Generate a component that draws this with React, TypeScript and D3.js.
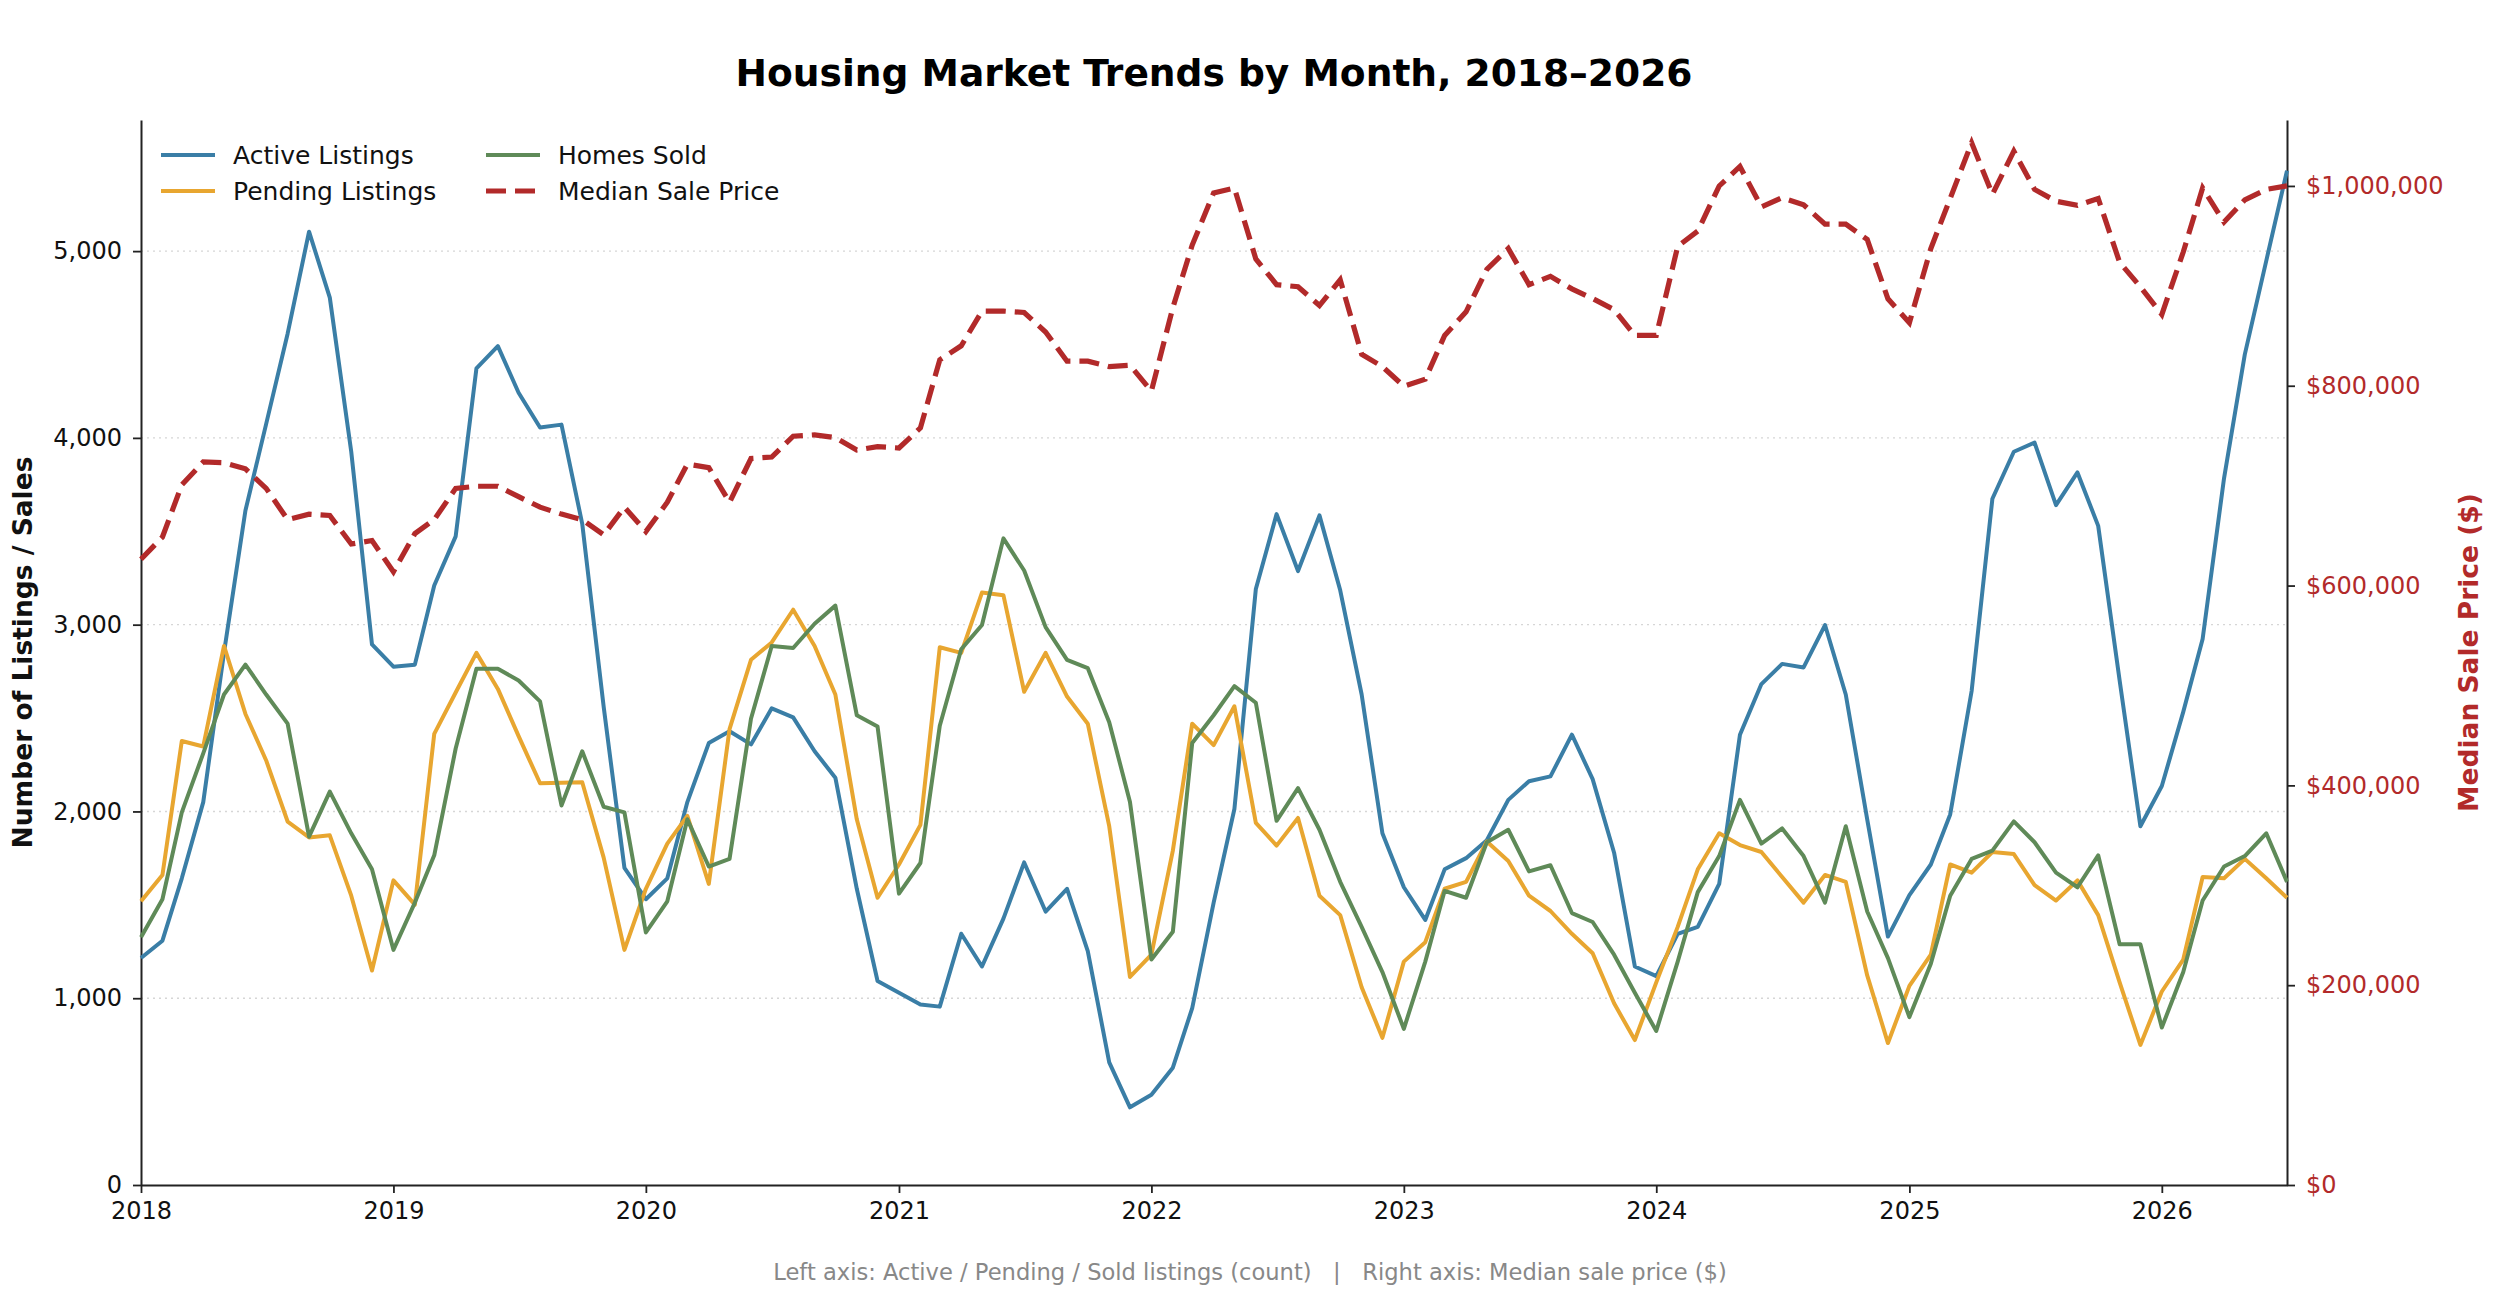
import React, { useRef, useEffect } from 'react';
import * as d3 from 'd3';

// monthly values, Jan 2018 .. Jul 2026
const START_YEAR = 2018;

const activeListings = [
  1215, 1308, 1642, 2050, 2850, 3611, 4075, 4558, 5104, 4751, 3926, 2894,
  2775, 2786, 3210, 3473, 4372, 4491, 4242, 4056, 4071, 3540, 2560, 1698,
  1530, 1642, 2050, 2366, 2429, 2359, 2552, 2504, 2322, 2181, 1586, 1092,
  1029, 966, 955, 1345, 1170, 1426, 1727, 1464, 1586, 1252, 657, 416,
  483, 628, 947, 1512, 2013, 3191, 3592, 3287, 3585, 3184, 2626, 1883,
  1594, 1419, 1690, 1750, 1846, 2062, 2162, 2188, 2411, 2173, 1779, 1170,
  1118, 1345, 1382, 1612, 2411, 2682, 2790, 2771, 2998, 2626, 1958, 1330,
  1552, 1716, 1984, 2645, 3674, 3926, 3975, 3640, 3815, 3529, 2701, 1921,
  2136, 2533, 2923, 3785, 4447, 4948, 5431,
];

const pendingListings = [
  1519, 1660, 2377, 2348, 2886, 2522, 2273, 1946, 1861, 1872, 1549, 1148,
  1631, 1501, 2415, 2637, 2849, 2656, 2403, 2151, 2154, 2156, 1753, 1259,
  1586, 1828, 1976, 1612, 2441, 2812, 2905, 3080, 2886, 2626, 1958, 1538,
  1716, 1928, 2879, 2849, 3172, 3158, 2641, 2849, 2615, 2470, 1921, 1114,
  1233, 1790, 2470, 2355, 2563, 1939, 1817, 1965, 1549, 1445, 1059, 788,
  1196, 1300, 1586, 1623, 1839, 1735, 1549, 1467, 1345, 1241, 973, 776,
  1085, 1382, 1690, 1883, 1820, 1783, 1649, 1512, 1660, 1623, 1122, 760,
  1066, 1233, 1716, 1672, 1783, 1772, 1605, 1523, 1631, 1445, 1085, 750,
  1036, 1207, 1649, 1642, 1746, 1642, 1538,
];

const homesSold = [
  1326, 1530, 1995, 2311, 2626, 2786, 2626, 2470, 1865, 2106, 1883, 1690,
  1259, 1512, 1765, 2337, 2764, 2764, 2701, 2589, 2032, 2322, 2025, 1995,
  1352, 1519, 1958, 1705, 1746, 2496, 2886, 2875, 3005, 3102, 2515, 2455,
  1560, 1724, 2459, 2868, 2998, 3462, 3290, 2987, 2812, 2767, 2478, 2051,
  1207, 1356, 2366, 2515, 2671, 2582, 1950, 2125, 1902, 1623, 1382, 1140,
  836, 1196, 1575, 1538, 1835, 1902, 1679, 1712, 1456, 1408, 1233, 1029,
  825, 1196, 1568, 1761, 2062, 1828, 1909, 1761, 1512, 1921, 1464, 1215,
  899, 1185, 1549, 1746, 1790, 1947, 1835, 1672, 1594, 1765, 1289, 1289,
  843, 1140, 1523, 1705, 1761, 1883, 1623,
];

const medianPrice = [
  626300, 648600, 700800, 723700, 723000, 716800, 697300, 666000, 671500, 670100, 641600, 645100,
  613800, 652000, 666000, 697300, 699400, 699400, 689000, 678500, 671500, 666000, 650700, 678500,
  654100, 683400, 721600, 718100, 683400, 727200, 728600, 749500, 750900, 748100, 735600, 739000,
  737700, 757800, 826000, 840000, 874700, 874700, 873300, 853800, 824600, 824600, 819100, 820500,
  794700, 878200, 940800, 993000, 997900, 926900, 901200, 899100, 880300, 906000, 831600, 819100,
  799600, 806600, 850400, 874000, 916500, 937400, 901200, 909500, 897000, 887300, 876100, 850400,
  850400, 939500, 954800, 1000000, 1019500, 979100, 988200, 981200, 961700, 961700, 946400, 887000,
  863000, 937400, 987500, 1043200, 991600, 1034800, 996500, 984700, 980500, 987500, 923500, 899100,
  871300, 933900, 997900, 963800, 986100, 996500, 1000000,
];

const yearTicks = [2018, 2019, 2020, 2021, 2022, 2023, 2024, 2025, 2026];
const countTicks = [0, 1000, 2000, 3000, 4000, 5000];
const priceTicks = [0, 200000, 400000, 600000, 800000, 1000000];

const COLORS = {
  active: '#3a7ea6',
  pending: '#e8a630',
  sold: '#5f8a58',
  price: '#b22a2a',
};

const FONT = '"DejaVu Sans", Verdana, sans-serif';
const W = 2500;
const H = 1306;
const margin = { top: 120, right: 213, bottom: 121, left: 141 };

const App: React.FC = () => {
  const svgRef = useRef<SVGSVGElement | null>(null);

  useEffect(() => {
    const svg = d3.select(svgRef.current);
    svg.selectAll('*').remove();

    const innerW = W - margin.left - margin.right;
    const innerH = H - margin.top - margin.bottom;
    const months = activeListings.map((_, i) => new Date(START_YEAR, i, 1));

    const x = d3.scaleTime()
      .domain([months[0], months[months.length - 1]])
      .range([0, innerW]);
    const yLeft = d3.scaleLinear().domain([0, 5702]).range([innerH, 0]);
    const yRight = d3.scaleLinear().domain([0, 1066000]).range([innerH, 0]);

    svg.append('rect').attr('width', W).attr('height', H).attr('fill', '#fff');

    // title
    svg.append('text')
      .attr('x', margin.left + innerW / 2)
      .attr('y', 86)
      .attr('text-anchor', 'middle')
      .attr('font-family', FONT)
      .attr('font-weight', 'bold')
      .attr('font-size', 37.6)
      .text('Housing Market Trends by Month, 2018–2026');

    const g = svg.append('g').attr('transform', `translate(${margin.left},${margin.top})`);

    // grid
    g.append('g')
      .selectAll('line')
      .data(countTicks.filter(t => t > 0))
      .enter().append('line')
      .attr('x1', 0)
      .attr('x2', innerW)
      .attr('y1', d => yLeft(d))
      .attr('y2', d => yLeft(d))
      .attr('stroke', '#d6d6d6')
      .attr('stroke-width', 1.4)
      .attr('stroke-dasharray', '2,4');

    const styleAxis = (sel: d3.Selection<SVGGElement, unknown, null, undefined>, color: string) => {
      sel.attr('font-family', FONT).attr('font-size', 24);
      sel.select('.domain').attr('stroke', '#222').attr('stroke-width', 2);
      sel.selectAll('.tick line').attr('stroke', '#222').attr('stroke-width', 1.8);
      sel.selectAll('.tick text').attr('fill', color);
    };

    const xAxis = g.append('g')
      .attr('transform', `translate(0,${innerH})`)
      .call(
        d3.axisBottom(x)
          .tickValues(yearTicks.map(y => new Date(y, 0, 1)))
          .tickFormat(d => d3.timeFormat('%Y')(d as Date))
          .tickSize(8)
          .tickSizeOuter(0)
          .tickPadding(9)
      );
    styleAxis(xAxis, '#111');

    const leftAxis = g.append('g')
      .call(
        d3.axisLeft(yLeft)
          .tickValues(countTicks)
          .tickFormat(d => d3.format(',')(d as number))
          .tickSize(8)
          .tickSizeOuter(0)
          .tickPadding(11)
      );
    styleAxis(leftAxis, '#111');

    const rightAxis = g.append('g')
      .attr('transform', `translate(${innerW},0)`)
      .call(
        d3.axisRight(yRight)
          .tickValues(priceTicks)
          .tickFormat(d => d3.format('$,.0f')(d as number))
          .tickSize(8)
          .tickSizeOuter(0)
          .tickPadding(11)
      );
    styleAxis(rightAxis, COLORS.price);

    // axis titles
    svg.append('text')
      .attr('transform', `translate(32,${margin.top + innerH / 2}) rotate(-90)`)
      .attr('text-anchor', 'middle')
      .attr('font-family', FONT)
      .attr('font-weight', 'bold')
      .attr('font-size', 26.5)
      .attr('fill', '#111')
      .text('Number of Listings / Sales');

    svg.append('text')
      .attr('transform', `translate(2478,${margin.top + innerH / 2}) rotate(-90)`)
      .attr('text-anchor', 'middle')
      .attr('font-family', FONT)
      .attr('font-weight', 'bold')
      .attr('font-size', 26.5)
      .attr('fill', COLORS.price)
      .text('Median Sale Price ($)');

    // series
    const countLine = d3.line<number>()
      .x((_, i) => x(months[i]))
      .y(d => yLeft(d));
    const priceLine = d3.line<number>()
      .x((_, i) => x(months[i]))
      .y(d => yRight(d));

    const countSeries = [
      { data: activeListings, color: COLORS.active },
      { data: pendingListings, color: COLORS.pending },
      { data: homesSold, color: COLORS.sold },
    ];
    countSeries.forEach(s => {
      g.append('path')
        .datum(s.data)
        .attr('fill', 'none')
        .attr('stroke', s.color)
        .attr('stroke-width', 4)
        .attr('stroke-linejoin', 'round')
        .attr('d', countLine);
    });

    g.append('path')
      .datum(medianPrice)
      .attr('fill', 'none')
      .attr('stroke', COLORS.price)
      .attr('stroke-width', 5.2)
      .attr('stroke-dasharray', '20,9')
      .attr('d', priceLine);

    // legend
    const legendItems = [
      { label: 'Active Listings', color: COLORS.active, dash: null, col: 0, row: 0 },
      { label: 'Pending Listings', color: COLORS.pending, dash: null, col: 0, row: 1 },
      { label: 'Homes Sold', color: COLORS.sold, dash: null, col: 1, row: 0 },
      { label: 'Median Sale Price', color: COLORS.price, dash: '20,9', col: 1, row: 1 },
    ];
    const legend = svg.append('g');
    const colX = [161, 486];
    const rowY = [155, 191];
    legendItems.forEach(item => {
      const lx = colX[item.col];
      const ly = rowY[item.row];
      legend.append('line')
        .attr('x1', lx)
        .attr('x2', lx + 54)
        .attr('y1', ly)
        .attr('y2', ly)
        .attr('stroke', item.color)
        .attr('stroke-width', item.dash ? 5.2 : 4)
        .attr('stroke-dasharray', item.dash ?? null);
      legend.append('text')
        .attr('x', lx + 72)
        .attr('y', ly)
        .attr('dy', '0.35em')
        .attr('font-family', FONT)
        .attr('font-size', 25)
        .attr('fill', '#111')
        .text(item.label);
    });

    // footer note
    svg.append('text')
      .attr('x', W / 2)
      .attr('y', 1280)
      .attr('text-anchor', 'middle')
      .attr('font-family', FONT)
      .attr('font-size', 22.6)
      .attr('fill', '#888')
      .style('white-space', 'pre')
      .text('Left axis: Active / Pending / Sold listings (count)   |   Right axis: Median sale price ($)');
  }, []);

  return (
    <svg
      ref={svgRef}
      width={W}
      height={H}
      style={{ position: 'absolute', left: 0, top: 0, display: 'block' }}
    />
  );
};

export default App;
